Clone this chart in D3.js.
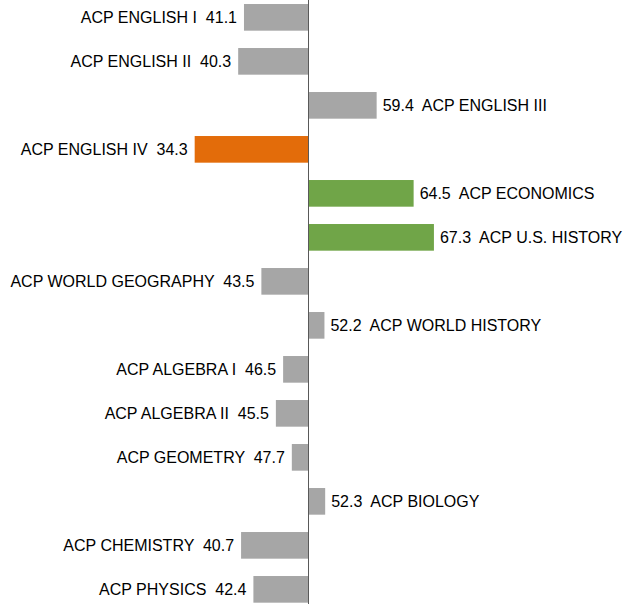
<!DOCTYPE html>
<html>
<head>
<meta charset="utf-8">
<script src="https://cdn.jsdelivr.net/npm/d3@7"></script>
<style>
  body { margin: 0; background: #fff; }
  svg { display: block; }
</style>
</head>
<body>
<svg id="chart"></svg>
<script>
// course names and scores, top to bottom
var courses = ["ACP ENGLISH I", "ACP ENGLISH II", "ACP ENGLISH III", "ACP ENGLISH IV",
  "ACP ECONOMICS", "ACP U.S. HISTORY", "ACP WORLD GEOGRAPHY", "ACP WORLD HISTORY",
  "ACP ALGEBRA I", "ACP ALGEBRA II", "ACP GEOMETRY", "ACP BIOLOGY",
  "ACP CHEMISTRY", "ACP PHYSICS"];
var scores = [41.1, 40.3, 59.4, 34.3, 64.5, 67.3, 43.5, 52.2, 46.5, 45.5, 47.7, 52.3, 40.7, 42.4];
// highlight group for each bar
var groups = ["base", "base", "base", "low", "high", "high", "base", "base",
  "base", "base", "base", "base", "base", "base"];
var baseline = 50;

var width = 625, height = 604;

var rows = courses.map(function(c, i){
  return {name: c, value: scores[i], group: groups[i]};
});

var svg = d3.select("#chart")
  .attr("width", width)
  .attr("height", height);

// 7.25 px per point, centred at 308.5
var xScale = d3.scaleLinear()
  .domain([30, 70])
  .range([163.5, 453.5]);

var yScale = d3.scaleBand()
  .domain(courses)
  .range([-4.65, 611.35])
  .paddingInner(0.394)
  .paddingOuter(0.197);

var colorScale = d3.scaleOrdinal()
  .domain(["base", "low", "high"])
  .range(["#a6a6a6", "#e36c0a", "#70a548"]);

svg.append("g").selectAll("rect")
  .data(rows)
  .enter()
  .append("rect")
  .attr("x", function(d){ return Math.min(xScale(d.value), xScale(baseline)); })
  .attr("width", function(d){ return Math.abs(xScale(d.value) - xScale(baseline)); })
  .attr("y", function(d){ return yScale(d.name); })
  .attr("height", yScale.bandwidth())
  .attr("fill", function(d){ return colorScale(d.group); });

// centre axis
svg.append("line")
  .attr("x1", xScale(baseline))
  .attr("x2", xScale(baseline))
  .attr("y1", 0)
  .attr("y2", height)
  .attr("stroke", "#595959")
  .attr("stroke-width", 1);

svg.append("g").selectAll("text")
  .data(rows)
  .enter()
  .append("text")
  .attr("x", function(d){
    return d.value < baseline ? xScale(d.value) - 7 : xScale(d.value) + 6;
  })
  .attr("y", function(d){ return yScale(d.name) + yScale.bandwidth() / 2; })
  .attr("dy", "0.34em")
  .attr("text-anchor", function(d){ return d.value < baseline ? "end" : "start"; })
  .attr("font-family", "'Liberation Sans', Arial, sans-serif")
  .attr("font-size", 16)
  .attr("fill", "#000")
  .style("white-space", "pre")
  .text(function(d){
    return d.value < baseline ? d.name + "  " + d.value.toFixed(1)
                              : d.value.toFixed(1) + "  " + d.name;
  });
</script>
</body>
</html>
